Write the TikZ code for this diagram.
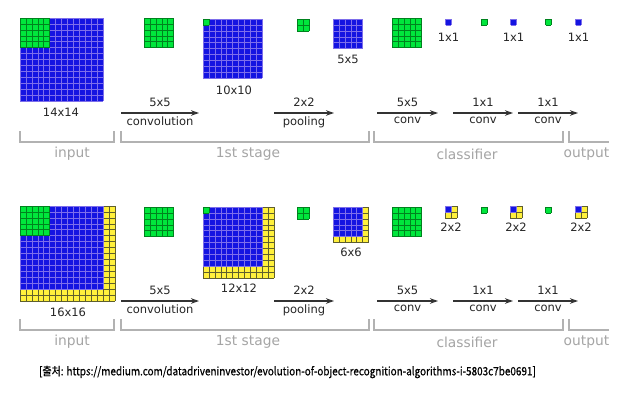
\documentclass[tikz,border=0pt]{standalone}
\usepackage{fontspec}
\setmainfont{DejaVu Sans}
\newfontfamily\krfont[FakeBold=0.6]{Noto Sans CJK KR}
\usetikzlibrary{arrows.meta}
\definecolor{cblue}{RGB}{20,20,225}
\definecolor{cbluel}{RGB}{125,110,235}
\definecolor{cgreen}{RGB}{0,230,60}
\definecolor{cgreenl}{RGB}{0,130,30}
\definecolor{cyel}{RGB}{255,240,60}
\definecolor{cyell}{RGB}{95,95,45}
\definecolor{lgray}{RGB}{178,178,178}
\definecolor{gtext}{RGB}{165,165,165}
\def\cw{5.93}
\newcommand{\cells}[5]{%
  \fill[#1 fill] (#2,#3) rectangle ++(#4*\cw,#5*\cw);
  \foreach \k in {0,...,#4} \draw[#1 line] (#2+\k*\cw,#3) -- ++(0,#5*\cw);
  \foreach \k in {0,...,#5} \draw[#1 line] (#2,#3+\k*\cw) -- ++(#4*\cw,0);
}
\begin{document}
\begin{tikzpicture}
  [x=1pt,y=-1pt,
   bl fill/.style={fill=cblue}, bl line/.style={draw=cbluel,line width=.5pt},
   gr fill/.style={fill=cgreen}, gr line/.style={draw=cgreenl,line width=.5pt},
   ye fill/.style={fill=cyel}, ye line/.style={draw=cyell,line width=.5pt},
   sz/.style={font=\fontsize{11.5}{13}\selectfont,text=black!85,inner sep=1pt},
   grp/.style={font=\fontsize{13.8}{16}\selectfont,text=gtext,inner sep=1pt},
   arr/.style={-{Stealth[length=8pt,width=5.5pt]},line width=1.2pt,draw=black!80},
   brk/.style={draw=lgray,line width=1.2pt}]
  \fill[white] (0,0) rectangle (627,394);
  \useasboundingbox (0,0) rectangle (627,394);

  % top row
  \cells{bl}{20}{18}{14}{14} \cells{gr}{20}{18}{5}{5}
  \cells{gr}{144}{18}{5}{5}
  \cells{bl}{203}{19}{10}{10} \cells{gr}{203}{19}{1}{1}
  \cells{gr}{297}{19}{2}{2}
  \cells{bl}{333}{19}{5}{5}
  \cells{gr}{392}{18}{5}{5}
  \cells{bl}{445.5}{19}{1}{1} \cells{gr}{481}{19}{1}{1}
  \cells{bl}{510.5}{19}{1}{1} \cells{gr}{545.5}{19}{1}{1}
  \cells{bl}{575.5}{19}{1}{1}
  \node[sz] (t1) at (61,112) {14x14};
  \node[sz] (t2) at (234,90) {10x10};
  \node[sz] (t3) at (348,59) {5x5};
  \node[sz] (t4) at (448.5,37.5) {1x1};
  \node[sz] (t5) at (513.5,37.5) {1x1};
  \node[sz] (t6) at (578.5,37.5) {1x1};

  % bottom row
  \cells{ye}{20}{206}{16}{16} \cells{bl}{20}{206}{14}{14} \cells{gr}{20}{206}{5}{5}
  \cells{gr}{144}{207}{5}{5}
  \cells{ye}{203}{207}{12}{12} \cells{bl}{203}{207}{10}{10} \cells{gr}{203}{207}{1}{1}
  \cells{gr}{297}{207}{2}{2}
  \cells{ye}{333}{207}{6}{6} \cells{bl}{333}{207}{5}{5}
  \cells{gr}{392}{207}{5}{5}
  \cells{ye}{445}{206}{2}{2} \cells{bl}{445}{206}{1}{1} \cells{gr}{481}{207}{1}{1}
  \cells{ye}{510}{206}{2}{2} \cells{bl}{510}{206}{1}{1} \cells{gr}{545.5}{207}{1}{1}
  \cells{ye}{575}{206}{2}{2} \cells{bl}{575}{206}{1}{1}
  \node[sz] (b1) at (68,312) {16x16};
  \node[sz] (b2) at (239,288) {12x12};
  \node[sz] (b3) at (351,252) {6x6};
  \node[sz] (b4) at (451,227.5) {2x2};
  \node[sz] (b5) at (516,227.5) {2x2};
  \node[sz] (b6) at (581,227.5) {2x2};

  % arrows and stages, both rows
  \foreach \r/\dy in {t/0,b/188} {
    \foreach \n/\xa/\xb/\u/\d in {1/121/199/5x5/convolution,2/274/334/2x2/pooling,
        3/377/438/5x5/conv,4/453/513/1x1/conv,5/518/578/1x1/conv} {
      \coordinate (\r s\n) at (\xa,113+\dy);
      \coordinate (\r e\n) at (\xb,113+\dy);
      \draw[arr] (\r s\n) -- node[sz,above=5pt] (\r u\n) {\u}
        node[sz,below=2pt] (\r d\n) {\d} (\r e\n);
    }
    \foreach \n/\xa/\xb/\lx/\t in {1/20/114/72/input,2/121/369/248/1st stage,
        3/374/563/467/classifier} {
      \draw[brk] (\xa,131+\dy) -- (\xa,142+\dy) -- (\xb,142+\dy) -- (\xb,131+\dy);
      \node[grp] (\r g\n) at (\lx,154+\dy) {\t};
    }
    \draw[brk] (569,131+\dy) -- (569,142+\dy) -- (609,142+\dy);
    \node[grp] (\r g4) at (586.5,154+\dy) {output};
  }

  \node (src) at (287.5,372) {\scalebox{0.865}[1]{\krfont\fontsize{11.5}{13}\selectfont [출처: https://medium.com/datadriveninvestor/evolution-of-object-recognition-algorithms-i-5803c7be0691]}};
\end{tikzpicture}
\end{document}
